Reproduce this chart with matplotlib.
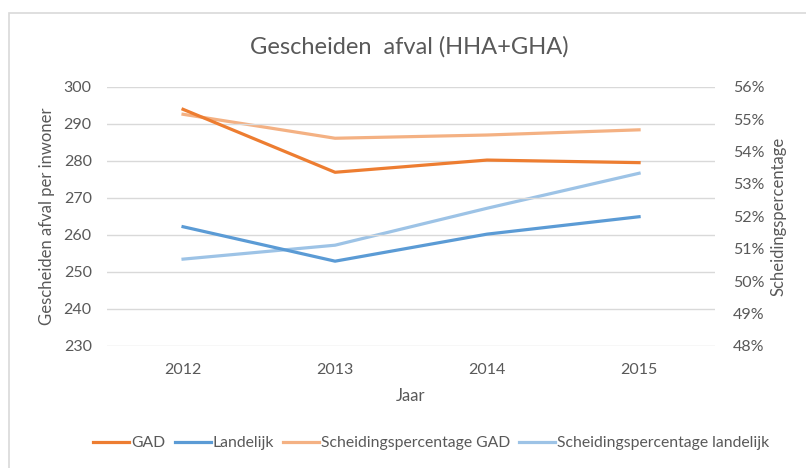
import matplotlib.pyplot as plt
from matplotlib.patches import Rectangle
from matplotlib.ticker import FuncFormatter

plt.rcParams['font.family'] = ['Lato', 'DejaVu Sans']

jaren = ['2012', '2013', '2014', '2015']
gad = [293.9, 276.9, 280.2, 279.5]
landelijk = [262.2, 252.9, 260.2, 264.9]
sch_gad = [55.15, 54.41, 54.51, 54.67]
sch_landelijk = [50.68, 51.11, 52.25, 53.33]

grijs = '#595959'
fig = plt.figure(figsize=(8.06, 4.68), dpi=100)
ax = fig.add_axes([0.1328, 0.2607, 0.7544, 0.554])
ax2 = ax.twinx()

x = range(len(jaren))
l1, = ax.plot(x, gad, color='#ED7D31', lw=2.3, label='GAD')
l2, = ax.plot(x, landelijk, color='#5B9BD5', lw=2.3, label='Landelijk')
l3, = ax2.plot(x, sch_gad, color='#F4B183', lw=2.3, label='Scheidingspercentage GAD')
l4, = ax2.plot(x, sch_landelijk, color='#9DC3E6', lw=2.3, label='Scheidingspercentage landelijk')
ax.set_zorder(ax2.get_zorder() + 1)
ax.patch.set_visible(False)

ax.set_xlim(-0.5, 3.5)
ax.set_ylim(230, 300)
ax.set_yticks(range(230, 301, 10))
ax2.set_ylim(48, 56)
ax2.set_yticks(range(48, 57))
ax2.yaxis.set_major_formatter(FuncFormatter(lambda v, p: f'{v:.0f}%'))
ax.set_xticks(list(x))
ax.set_xticklabels(jaren)
ax.grid(axis='y', color='#D9D9D9', lw=1)

for a in (ax, ax2):
    for s in a.spines.values():
        s.set_visible(False)
    a.tick_params(length=0, labelsize=11.5, labelcolor=grijs)
ax.tick_params(axis='y', pad=11)
ax2.tick_params(axis='y', pad=13)
ax.tick_params(axis='x', pad=12)

ax.set_ylabel('Gescheiden afval per inwoner', fontsize=12, color=grijs, labelpad=6)
ax2.set_ylabel('Scheidingspercentage', fontsize=12, color=grijs, labelpad=4)
ax.set_xlabel('Jaar', fontsize=12, color=grijs, labelpad=8)
fig.text(0.508, 0.9, 'Gescheiden  afval (HHA+GHA)', ha='center', va='center', fontsize=17, color=grijs)

fig.legend(handles=[l1, l2, l3, l4], loc='center', bbox_to_anchor=(0.535, 0.053), ncol=4,
           frameon=False, fontsize=11.3, labelcolor=grijs, handlelength=2.3, handletextpad=0.1,
           columnspacing=0.6)

fig.patches.append(Rectangle((9 / 806, -0.1), 1.2, 1 - 13 / 468 + 0.1, transform=fig.transFigure,
                             fill=False, edgecolor='#D9D9D9', lw=1.2))

fig.savefig('out.png', dpi=100)
